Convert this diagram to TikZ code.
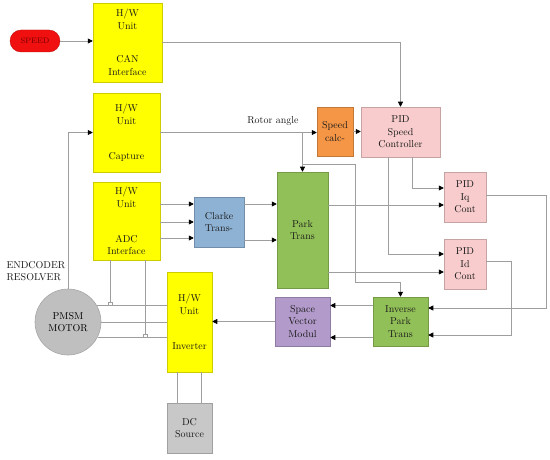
\documentclass[tikz,border=0pt]{standalone}
\usepackage{xcolor}
\usepackage{tikz}
\usetikzlibrary{arrows.meta, calc}
\definecolor{hwyellow}{RGB}{255,255,0}
\definecolor{calcorange}{RGB}{245,150,70}
\definecolor{pidpink}{RGB}{248,204,204}
\definecolor{parkgreen}{RGB}{146,192,88}
\definecolor{clarkeblue}{RGB}{142,178,212}
\definecolor{svmpurple}{RGB}{178,154,202}
\definecolor{dcgray}{RGB}{200,200,200}
\definecolor{speedred}{RGB}{240,16,16}
\definecolor{wiregray}{RGB}{158,158,158}

\begin{document}
\begin{tikzpicture}[x=1pt, y=-1pt, >={Triangle[length=5pt, width=5pt, color=black]},
    font=\fontsize{10}{12.5}\selectfont,
    block/.style={draw=#1!80!black, fill=#1, line width=0.5pt, align=center, inner sep=0pt, text=black!90},
    wire/.style={draw=wiregray, line width=0.6pt},
    tap/.style={draw=wiregray, fill=white, line width=0.5pt, minimum width=4pt, minimum height=3pt, inner sep=0pt}]
    \useasboundingbox (0,0) rectangle (550,460);

    % Hardware units
    \node[block=hwyellow, minimum width=69, minimum height=79] (can) at (127.5,42.5) {H/W\\Unit\\[21pt]CAN\\Interface};
    \node[block=hwyellow, minimum width=67, minimum height=79] (capture) at (126.5,132.5) {H/W\\Unit\\[22.5pt]Capture};
    \node[block=hwyellow, minimum width=67, minimum height=78] (adc) at (126.5,221) {H/W\\Unit\\[22.5pt]ADC\\Interface};
    \node[block=hwyellow, minimum width=45, minimum height=100] (inverter) at (189.5,322) {H/W\\Unit\\[22.5pt]Inverter};
    \node[block=dcgray, minimum width=45, minimum height=50] (dc) at (189.5,428) {DC\\Source};

    % Speed command
    \node[draw=speedred!80!black, fill=speedred, rounded corners=11pt, minimum width=50, minimum height=22,
        inner sep=0pt, text=red!45!black, font=\fontsize{8}{9}\selectfont] (speed) at (35,41) {SPEED};

    % Motor and sensor
    \node[circle, draw=gray!70, fill=gray!50, minimum size=66, inner sep=0pt, align=center, line width=0.6pt] (motor) at (68,322) {PMSM\\MOTOR};
    \node[align=left, anchor=west, text=black!90] (encoderlbl) at (3,271) {ENDCODER\\RESOLVER};

    % Transforms and controllers
    \node[block=clarkeblue, minimum width=50, minimum height=50] (clarke) at (219,222) {Clarke\\Trans-};
    \node[block=parkgreen, minimum width=51, minimum height=116] (park) at (302.5,230) {Park\\Trans};
    \node[block=calcorange, minimum width=36, minimum height=49] (speedcalc) at (335,131.5) {Speed\\calc-};
    \node[block=pidpink, minimum width=79, minimum height=50] (pidspeed) at (400.5,132) {PID\\Speed\\Controller};
    \node[block=pidpink, minimum width=42, minimum height=50] (iq) at (465,197) {PID\\Iq\\Cont};
    \node[block=pidpink, minimum width=42, minimum height=50] (id) at (465,264) {PID\\Id\\Cont};
    \node[block=parkgreen, minimum width=55, minimum height=49] (ipark) at (400.5,321.5) {Inverse\\Park\\Trans};
    \node[block=svmpurple, minimum width=55, minimum height=49] (svm) at (302.5,321.5) {Space\\Vector\\Modul};

    % Speed reference path
    \draw[wire, ->] (speed.east) -- (speed.east -| can.west);
    \draw[wire, ->] (can.east) -| (pidspeed.north);

    % Rotor angle path
    \draw[wire, ->] (motor.north) |- (capture.west);
    \draw[wire, ->] (capture.east) -- (capture.east -| speedcalc.west)
        node[pos=0.72, above=3pt, text=black!90] (rotorlbl) {Rotor angle};
    \coordinate (anglesplit) at ($(park.north)+(0,-7)$);
    \coordinate (anglebend) at (355,282);
    \draw[wire, ->] (capture.east -| park.north) -- (park.north);
    \draw[wire, ->] (anglesplit) -| (anglebend) -| (ipark.north);
    \draw[wire, ->] (speedcalc.east) -- (speedcalc.east -| pidspeed.west);

    % Current references
    \coordinate (iqin1) at ($(iq.west)+(0,-9)$);
    \coordinate (iqin2) at ($(iq.west)+(0,8)$);
    \coordinate (idin1) at ($(id.west)+(0,-10)$);
    \coordinate (idin2) at ($(id.west)+(0,8)$);
    \draw[wire, ->] ($(pidspeed.south)+(12,0)$) |- (iqin1);
    \draw[wire, ->] ($(pidspeed.south)+(-12,0)$) |- (idin1);
    \draw[wire, ->] (park.east |- iqin2) -- (iqin2);
    \draw[wire, ->] (park.east |- idin2) -- (idin2);

    % Voltage commands
    \coordinate (iqout) at (546,308);
    \coordinate (idout) at (511,335);
    \draw[wire, ->] ($(iq.east)+(0,-2)$) -| (iqout) -- (iqout -| ipark.east);
    \draw[wire, ->] ($(id.east)+(0,-3)$) -| (idout) -- (idout -| ipark.east);
    \draw[wire, ->] ($(ipark.west)+(0,-16)$) -- ($(svm.east)+(0,-16)$);
    \draw[wire, ->] ($(ipark.west)+(0,16)$) -- ($(svm.east)+(0,16)$);
    \draw[wire, ->] (svm.west) -- (svm.west -| inverter.east);

    % Current measurement
    \foreach \dy in {-18,0,16} {
        \coordinate (clarkein) at ($(clarke.west)+(0,\dy)$);
        \draw[wire, ->] (adc.east |- clarkein) -- (clarkein);
    }
    \foreach \dy in {-18,18} {
        \coordinate (clarkeout) at ($(clarke.east)+(0,\dy)$);
        \draw[wire, ->] (clarkeout) -- (clarkeout -| park.west);
    }

    % Motor phases
    \draw[wire] (motor.31) -- (motor.31 -| inverter.west);
    \draw[wire] (motor.east) -- (motor.east -| inverter.west);
    \draw[wire] (motor.-27) -- (motor.-27 -| inverter.west);
    \node[tap] (tapa) at (110,304) {};
    \node[tap] (tapb) at (145,336) {};
    \draw[wire] (adc.south -| tapa) -- (tapa.north);
    \draw[wire] (adc.south -| tapb) -- (tapb.north);

    % DC link
    \draw[wire] ($(inverter.south)+(-12.5,0)$) -- ($(dc.north)+(-12.5,0)$);
    \draw[wire] ($(inverter.south)+(11.5,0)$) -- ($(dc.north)+(11.5,0)$);
\end{tikzpicture}
\end{document}
